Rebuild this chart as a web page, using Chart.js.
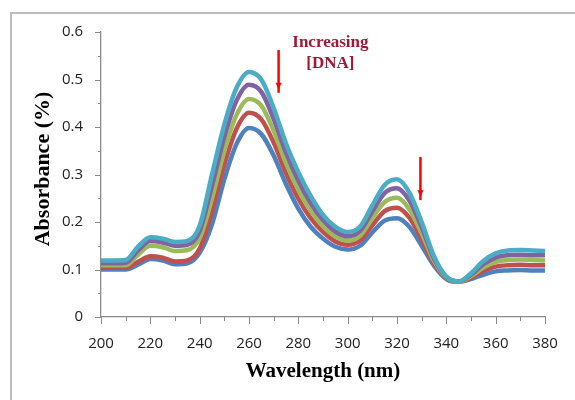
<!DOCTYPE html>
<html>
<head>
<meta charset="utf-8">
<script src="https://cdn.jsdelivr.net/npm/chart.js@4.4.1/dist/chart.umd.min.js"></script>
<style>
  html, body { margin: 0; padding: 0; background: #fff; }
  canvas { display: block; }
</style>
</head>
<body>
<canvas id="uvChart" width="575" height="400"></canvas>
<script>
const wavelengths = [200, 205, 210, 215, 220, 225, 230, 235, 240, 245, 250, 255, 260, 265, 270, 275, 280, 285,
  290, 295, 300, 305, 310, 315, 320, 325, 330, 335, 340, 345, 350, 355, 360, 365, 370, 375, 380];

// absorbance per titration step, lowest to highest
const series1 = [0.100, 0.100, 0.100, 0.110, 0.122, 0.119, 0.111, 0.113, 0.135, 0.195, 0.290, 0.365, 0.398,
  0.385, 0.340, 0.280, 0.228, 0.190, 0.165, 0.148, 0.142, 0.150, 0.178, 0.203, 0.208, 0.190, 0.150, 0.108,
  0.080, 0.074, 0.080, 0.089, 0.096, 0.098, 0.099, 0.098, 0.098];
const series2 = [0.104, 0.104, 0.104, 0.116, 0.128, 0.125, 0.117, 0.119, 0.144, 0.223, 0.321, 0.397, 0.430,
  0.416, 0.367, 0.303, 0.249, 0.208, 0.179, 0.159, 0.152, 0.161, 0.193, 0.223, 0.230, 0.209, 0.164, 0.113,
  0.081, 0.074, 0.083, 0.097, 0.106, 0.109, 0.110, 0.109, 0.109];
const series3 = [0.109, 0.109, 0.109, 0.131, 0.150, 0.147, 0.139, 0.141, 0.166, 0.250, 0.350, 0.426, 0.459,
  0.445, 0.392, 0.324, 0.268, 0.224, 0.191, 0.170, 0.161, 0.171, 0.208, 0.242, 0.251, 0.227, 0.176, 0.118,
  0.083, 0.074, 0.086, 0.104, 0.116, 0.120, 0.121, 0.120, 0.119];
const series4 = [0.113, 0.113, 0.114, 0.140, 0.160, 0.157, 0.150, 0.152, 0.181, 0.276, 0.379, 0.456, 0.489,
  0.474, 0.417, 0.346, 0.287, 0.240, 0.204, 0.180, 0.170, 0.181, 0.222, 0.261, 0.271, 0.245, 0.189, 0.123,
  0.084, 0.075, 0.089, 0.111, 0.125, 0.130, 0.131, 0.130, 0.130];
const series5 = [0.119, 0.119, 0.120, 0.148, 0.168, 0.165, 0.158, 0.160, 0.192, 0.300, 0.405, 0.483, 0.516,
  0.500, 0.440, 0.365, 0.305, 0.255, 0.215, 0.190, 0.179, 0.190, 0.235, 0.278, 0.290, 0.262, 0.200, 0.128,
  0.085, 0.075, 0.092, 0.118, 0.134, 0.140, 0.141, 0.140, 0.139];

const seriesColors = ["#4F81BD", "#C0504D", "#9BBB59", "#8064A2", "#4BACC6"];

// annotation anchors, in data units
const noteLines = ["Increasing", "[DNA]"];
const noteAt = { x: 293, y: [0.568, 0.524] };
const arrows = [
  { x: 272, from: 0.562, to: 0.472 },
  { x: 329.5, from: 0.337, to: 0.246 }
];

const allSeries = [series1, series2, series3, series4, series5];

const extras = {
  id: "extras",
  beforeDraw(chart) {
    const ctx = chart.ctx;
    ctx.save();
    ctx.strokeStyle = "#bdbdbd";
    ctx.lineWidth = 2;
    ctx.strokeRect(11, 13, 700, 600);
    ctx.restore();
  },
  afterDraw(chart) {
    const { ctx, scales: { x, y } } = chart;
    ctx.save();

    // tick marks, long on labelled values
    ctx.strokeStyle = "#8c8c8c";
    ctx.lineWidth = 1;
    x.ticks.forEach(t => {
      const px = Math.round(x.getPixelForValue(t.value)) + 0.5;
      const len = t.value % 20 === 0 ? 7 : 4;
      ctx.beginPath();
      ctx.moveTo(px, y.bottom);
      ctx.lineTo(px, y.bottom + len);
      ctx.stroke();
    });
    y.ticks.forEach(t => {
      const py = Math.round(y.getPixelForValue(t.value)) + 0.5;
      const len = Math.round(t.value * 100) % 10 === 0 ? 6 : 3;
      ctx.beginPath();
      ctx.moveTo(x.left - len, py);
      ctx.lineTo(x.left, py);
      ctx.stroke();
    });

    // red arrows
    ctx.strokeStyle = "#ff0000";
    ctx.fillStyle = "#ff0000";
    arrows.forEach(a => {
      const px = x.getPixelForValue(a.x);
      const top = y.getPixelForValue(a.from);
      const bot = y.getPixelForValue(a.to);
      ctx.lineWidth = 2.5;
      ctx.beginPath();
      ctx.moveTo(px, top);
      ctx.lineTo(px, bot);
      ctx.stroke();
      ctx.beginPath();
      ctx.moveTo(px - 3, bot - 10);
      ctx.lineTo(px + 3, bot - 10);
      ctx.lineTo(px, bot - 3);
      ctx.closePath();
      ctx.fill();
    });

    // note text
    ctx.fillStyle = "#9e1a34";
    ctx.font = "bold 17px 'Liberation Serif'";
    ctx.textAlign = "center";
    ctx.textBaseline = "alphabetic";
    noteLines.forEach((line, i) => {
      ctx.fillText(line, x.getPixelForValue(noteAt.x), y.getPixelForValue(noteAt.y[i]));
    });
    ctx.restore();
  }
};

new Chart(document.getElementById("uvChart"), {
  type: "line",
  data: {
    datasets: allSeries.map((s, i) => ({
      data: wavelengths.map((w, j) => ({ x: w, y: s[j] })),
      borderColor: seriesColors[i],
      borderWidth: 4.5,
      pointRadius: 0,
      fill: false,
      cubicInterpolationMode: "monotone",
      order: allSeries.length - i
    }))
  },
  options: {
    responsive: false,
    animation: false,
    layout: { padding: { top: 32, right: 30, left: 0, bottom: 0 } },
    plugins: {
      legend: { display: false },
      tooltip: { enabled: false }
    },
    scales: {
      x: {
        type: "linear",
        min: 200,
        max: 380,
        afterFit(s) { s.height = 83; },
        ticks: {
          stepSize: 10,
          autoSkip: false,
          maxRotation: 0,
          padding: 11,
          color: "#222",
          font: { family: "Open Sans", size: 15 },
          callback: v => (v % 20 === 0 ? String(v) : "")
        },
        grid: { drawOnChartArea: false, color: "rgba(0,0,0,0)", tickLength: 7 },
        border: { color: "#8c8c8c", width: 1.3 },
        title: {
          display: true,
          text: "Wavelength (nm)",
          color: "#000",
          font: { family: "Liberation Serif", size: 21, weight: "bold" },
          padding: { top: 0, bottom: 16 }
        }
      },
      y: {
        min: 0,
        max: 0.6,
        afterFit(s) { s.width = 101; },
        ticks: {
          stepSize: 0.05,
          autoSkip: false,
          padding: 12,
          color: "#222",
          font: { family: "Open Sans", size: 15 },
          callback: v => {
            const h = Math.round(v * 100);
            return h % 10 === 0 ? (h === 0 ? "0" : (h / 100).toFixed(1)) : "";
          }
        },
        grid: { drawOnChartArea: false, color: "rgba(0,0,0,0)", tickLength: 6 },
        border: { color: "#8c8c8c", width: 1.3 },
        title: {
          display: true,
          text: "  Absorbance (%)",
          color: "#000",
          font: { family: "Liberation Serif", size: 22, weight: "bold" },
          padding: { top: 30, bottom: 0 }
        }
      }
    }
  },
  plugins: [extras]
});
</script>
</body>
</html>
